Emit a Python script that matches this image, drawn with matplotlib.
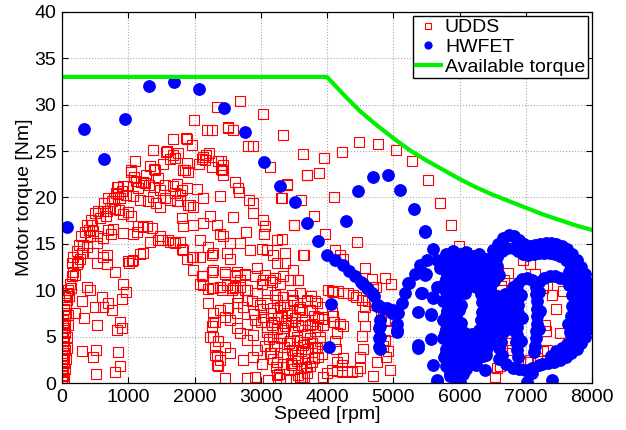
import numpy as np
import matplotlib
matplotlib.use("Agg")
import matplotlib.pyplot as plt

plt.rcParams['font.family'] = ['Liberation Sans', 'DejaVu Sans']

# ---------------- UDDS (speed rpm, torque Nm) ----------------
udds_idle = [(0,0.3),(10,0.8),(20,1.3),(5,1.8),(30,2.2),(15,2.7),(25,3.2),(40,3.6),(10,4.0),(35,4.5),
             (20,5.0),(45,5.4),(30,5.9),(50,6.3),(15,6.8),(40,7.2),(60,7.6),(25,8.0),(55,8.4),(70,8.9),
             (45,9.3),(80,9.7),(5,0.9),(45,1.5),(60,2.6),(70,3.8),(75,5.0),(85,6.2),(90,7.3),(0,3.0),
             (0,5.5),(8,6.4),(0,1.2),(30,0.5)]

udds_launch = [(96,10.0),(121,10.7),(146,11.5),(171,12.0),(221,12.8),(146,12.9),(171,13.6),(221,14.2),
  (256,14.9),(272,13.4),(297,14.0),(287,15.9),(347,16.3),(372,14.7),(372,17.0),(423,15.8),(433,17.6),
  (473,16.4),(473,14.0),(498,18.3),(523,15.9),(533,15.1),(548,18.5),(614,18.5),(614,15.6),(624,13.6),
  (640,19.4),(674,13.8),(674,18.5),(699,16.5),(700,19.9),(735,16.1),(750,19.6),(765,16.6),(800,18.8),
  (810,20.5),(825,21.1),(850,20.4),(850,21.1),(865,18.7),(900,20.7),(926,21.2),(926,18.2),(926,16.2),
  (976,21.2),(1001,18.4),(1036,22.7),(1036,18.0),(1041,23.0),(1067,20.2),(1077,16.1),(1082,22.2),
  (1087,22.2),(1102,23.9),(1117,21.8),(1127,16.3),(1152,16.9),(1177,19.7),(1177,13.9),(1192,21.7),
  (1228,21.7),(1228,16.8),(1228,14.0),(1253,21.6),(1288,16.9),(1303,19.6),(1318,21.3),(1328,23.4),
  (1328,15.2),(1353,16.7),(1378,25.1),(1378,20.1),(1389,21.1),(1393,23.1),(1404,23.0),(1419,19.4),
  (1444,15.4),(1479,20.8),(1479,19.0),(1479,15.8),(1504,15.4),(1555,21.3),(1555,19.9),(1570,24.9),
  (1590,25.0),(1605,15.4),(1630,24.2),(1630,19.7),(1630,15.2),(1680,26.3),(1680,24.6),(1680,21.2),
  (1680,15.2),(1705,24.3),(1705,20.5),(1705,15.1),(1731,21.5),(1731,19.6),(1781,19.6),(1781,15.2),
  (1781,20.3),(1806,20.8),(1806,17.8),(1806,14.5),(1821,23.0),(1831,23.0),(1831,16.9),(1831,14.3),
  (1856,23.0),(1871,26.4),(1882,26.3),(1882,21.0),(1882,23.7),(1882,13.4),(1907,22.7),(1907,19.2),
  (1932,19.2),(1957,25.7),(1957,13.6),(1982,19.0),(1982,17.0),(1982,13.6),(1982,12.2),(1992,28.4),
  (2032,20.9),(2073,23.6),(2083,15.4),(2083,13.6),(2083,10.7),(2108,24.2),(2108,11.5),(2133,24.4),
  (2133,19.9),(2133,17.2),(2133,11.5),(2158,24.0),(2173,24.6),(2183,27.3),(2209,14.7),(2209,10.1),
  (2234,18.0),(2259,27.3),(2259,13.8),(2274,12.2),(2284,14.0),(2284,10.2),(2334,29.8),(2334,17.0),
  (2360,23.9),(2385,20.2),(2385,16.1),(2385,10.4),(2395,23.9),(2400,23.1),(2410,23.0),(2410,10.0),
  (2425,23.5),(2435,22.4),(2435,15.8),(2460,12.0),(2485,14.0),(2500,27.5),(2510,27.6),(2536,15.1),
  (2536,13.4),(2561,10.0),(2576,27.3),(2586,17.9),(2611,21.7),(2611,10.4),(2611,11.5),(2636,12.0),
  (2661,21.0),(2661,9.3),(2676,20.6),(2687,30.4),(2687,15.1),(2687,11.1),(2762,11.6),(2762,10.0),
  (2777,16.3),(2787,9.0),(2812,25.5),(2827,19.7),(2837,14.3),(2878,25.5),(2878,19.4),(2888,18.3),
  (2938,12.4),(3014,14.5),(3014,10.7),(3029,29.0),(3039,17.6),(3054,16.1),(3064,16.9),(3064,11.6),
  (3089,14.3),(3139,23.3),(3139,11.1),(3165,10.9),(3190,13.8),(3240,15.4),(3240,12.9),(3290,10.7),
  (3305,19.9),(3315,15.5),(3340,26.7),(3366,14.0),(3366,12.9),(3401,21.4),(3491,12.2),(3501,17.0),
  (3567,11.1),(3642,13.8),(3693,22.4),
  (60,9.0),(110,9.4),(135,10.2),(190,11.6),(240,13.0),(320,14.9),(400,16.5),(455,17.0),(580,17.8),
  (660,18.0),(720,18.9),(780,19.9),(880,19.9),(960,20.3),(1140,21.0),(1270,22.4),(1450,22.1),
  (1520,23.6),(1750,24.8),(2260,23.3),(2220,24.8)]

udds_low_scatter = [(196,7.5),(297,8.8),(332,7.0),(372,10.4),(423,10.0),(498,8.2),(533,6.3),(599,9.3),
  (624,8.2),(699,8.6),(750,7.9),(825,5.7),(875,6.6),(900,5.9),(900,9.1),(926,10.7),(966,9.85),
  (297,3.5),(513,3.6),(473,2.8),(850,3.3),(875,1.8),(513,1.0),(800,1.2),(1000,13.1),(1052,13.2),
  (1016,12.9),(1067,13.3),(523,12.9),(674,12.8),(800,12.0)]

udds_mid_cluster = [
  (2259,12.0),(2460,11.8),(2611,11.6),(2762,11.8),(2913,11.5),(3039,11.1),(3215,11.3),(3341,11.5),
  (3441,11.1),(3567,11.1),
  (2133,10.6),(2259,10.2),(2385,10.4),(2485,10.6),(2586,10.2),(2687,10.4),(2787,10.0),(2938,9.7),
  (3089,10.0),(3215,9.5),(3341,9.3),(3466,9.5),(3592,9.7),(3693,8.95),(3819,8.8),
  (2209,8.6),(2385,7.9),(2511,8.05),(2636,8.6),(2737,8.2),(2863,8.8),(2989,8.4),(3089,8.6),(3190,8.05),
  (3291,8.2),(3391,8.4),(3492,8.8),(3592,8.2),(3743,7.9),(3844,8.6),(3919,8.2),
  (2309,6.6),(2460,7.1),(2536,6.8),(2636,7.5),(2636,5.9),(2787,6.4),(2913,6.8),(3039,7.1),(3165,6.2),
  (3265,7.0),(3366,6.1),(3466,7.3),(3567,6.2),(3668,6.8),(3768,6.4),(3869,7.1),(3945,6.2),
  (2284,5.0),(2360,4.5),(2460,3.9),(2687,5.4),(2787,4.6),(2888,5.2),(3089,5.5),(3190,5.0),(3240,4.3),
  (3341,5.4),(3441,4.5),(3542,5.0),(3643,4.1),(3743,4.8),(3819,3.9),(3894,4.5),
  (2309,3.0),(2385,2.5),(2334,1.9),(2536,3.2),(2737,2.5),(2888,2.8),(3014,2.1),(3139,3.2),(3240,2.3),
  (3341,2.8),(3466,1.9),(3567,2.7),(3668,3.2),(3768,2.3),(3869,2.8),
  (2460,0.5),(2787,0.5),(2913,0.7),(3114,0.3),(3291,0.5),(3441,0.3),(3592,0.7),
  (2234,5.0),(2259,6.1),(2309,3.9),(2334,2.9),(2360,1.8),(2284,6.6),(2284,7.5)]

udds_core = [(3150,7.6),(3200,6.6),(3250,5.8),(3300,4.9),(3350,3.9),(3400,3.1),(3450,2.2),(3500,1.5),
  (3550,2.4),(3600,3.4),(3650,4.4),(3700,5.3),(3750,6.3),(3800,7.2),(3850,6.0),(3900,5.0),(3850,3.8),
  (3800,2.7),(3750,1.8),(3700,1.1),(3650,0.6),(3600,1.6),(3550,4.6),(3500,5.6),(3450,6.6),(3400,7.5),
  (3350,8.4),(3300,7.2),(3250,8.9),(3200,4.0),(3150,3.2),(3100,6.0),(3120,4.7),(3180,2.6),(3230,1.7),
  (3280,1.0),(3330,5.9),(3380,6.8),(3420,4.3),(3470,3.6),(3520,7.0),(3570,8.0),(3620,6.1),(3670,2.6),
  (3720,3.7),(3770,4.3),(3820,5.6),(3870,7.0),(3920,3.1),(3930,6.9),(3330,2.0),(3520,3.0),(3620,7.7),
  (3700,8.8),(3480,9.0),(3060,4.0),(3000,6.6),(3040,8.0),(2950,3.6),(2900,7.4),(3760,9.4),(3560,0.9),
  (3380,0.4),(3240,0.9)]

udds_loop = [(4095,9.8),(4170,9.9),(4246,9.7),(4321,9.7),(4387,9.5),(4437,9.3),(4523,9.0),(4623,8.8),
  (4709,8.4),(4070,9.9),(4020,10.0),(4538,7.2),(4573,6.1),(4523,5.1),(4548,3.7),(4498,2.8),(4573,8.2),
  (4749,2.3),(4689,0.75),(4840,4.0),(4890,2.84),(4850,8.0),(4870,6.8),(4900,5.6),(4880,4.6),(4925,3.5),
  (4950,1.4),(4820,7.3),(4096,7.2),(4070,7.7),(4196,6.4),(4247,6.1),(4146,5.4),(4121,4.5),(4136,3.7),
  (4146,2.3),(4221,1.9),(4236,2.66),(4110,6.6),(3944,0.7),(3994,1.05),(4145,1.3),(4221,1.2),(4296,1.3),
  (4372,1.2),(4448,1.3),(4498,1.6),(4070,1.4),(3683,1.76),(3617,0.7),(4674,11.2),(4699,10.4),
  (4875,11.3),(4960,10.7),(4573,12.4),(4739,10.4)]

udds_high = [(3633,24.7),(3955,24.3),(4221,24.9),(4488,26.0),(4775,25.8),(5041,25.1),(3703,22.4),
  (3884,22.6),(3391,21.5),(3316,19.9),(3602,19.7),(4111,20.1),(3804,18.0),(3507,17.0),(3970,16.1),
  (4448,15.2),(3653,13.8),(4121,14.3),(4196,13.8),(4236,13.4),(5288,23.9),(5520,21.9),(5706,19.4),
  (5867,17.0),(5993,14.8),(6098,14.0),(6194,12.5),(6269,11.6)]

udds_in_hwfet = [(6737,11.9),(6677,11.1),(6627,10.5),(6964,13.3),(7064,12.8),(7140,11.8),(7266,10.2),
  (7316,10.6),(7568,9.95),(7291,6.2),(7517,5.4),(7266,3.4),(7316,3.6),(7165,2.7),(7039,2.3),(6762,4.3),
  (6788,3.6),(6611,1.8),(6536,0.7),(6571,1.6),(7064,2.5),(7400,9.5),(7450,8.0),(7300,5.6)]

# ---------------- HWFET ----------------
hwfet_launch = [(80,16.85),(337,27.35),(639,24.2),(951,28.5),(1318,32.05),(1695,32.5),(2073,31.65),
  (2440,29.7),(2762,27.06),(3054,23.8),(3295,21.2),(3512,19.5),(3698,17.3),(3860,15.3),(3995,13.8)]

hwfet_decel = [(4121,13.26),(4237,12.7),(4337,12.1),(4423,11.5),(4509,10.9),(4548,10.7),(4599,10.2),
  (4623,10.1),(4674,9.67),(4709,9.4),(4750,8.3),(4774,8.4),(4850,8.05),(4910,8.05),(4976,7.5),
  (5000,7.87),(5076,7.6),(5052,6.4),(5052,5.5),(4800,6.8),(4800,6.1),(4789,5.9),(4789,4.8),(4800,5.0),
  (4790,3.9),(4800,3.7),(4056,8.5),(4035,3.85)]

hwfet_hill = [(4282,17.5),(4473,20.7),(4690,22.2),(4916,22.4),(5102,20.8),(5318,18.8),(5479,16.4),
  (5605,14.4)]

hwfet_mid = [(5127,8.6),(5177,9.67),(5227,10.8),(5242,10.75),(5328,11.8),(5404,12.7),(5505,13.3),
  (5655,13.3),(5857,12.4),(5479,11.6),(5429,9.67),(5605,9.3),(5378,7.7),(5570,7.44),(5570,4.74),
  (5378,3.74),(5595,1.9),(5655,0.3),(5052,5.7),(5378,4.1),(5419,9.7),(5489,11.75),(5570,7.3),
  (5605,9.2),(5665,0.14),(5655,10.4),(5705,12.4),(5806,12.9),(5856,11.8),(5957,11.5),(5856,8.94),
  (5806,7.15),(5781,5.35),(5831,2.66),(5856,1.04),(5957,0.14),(5479,16.3)]

hwfet_blob = [(5790,13.9),(5905,14.2),(6010,13.9),(6095,14.1),(6205,13.7),(6300,13.9),(6395,13.4),
  (5750,12.7),(5860,12.9),(5945,12.6),(6055,12.9),(6140,12.7),(6260,12.8),(6345,12.5),(6455,12.9),
  (5810,11.8),(5890,11.6),(6010,11.9),(6095,11.7),(6210,11.6),(6290,11.9),(6410,11.7),
  (5760,10.7),(5845,10.9),(5960,10.6),(6040,10.8),(6160,10.5),(6245,10.3),(6350,10.8),(6440,10.6),
  (5800,9.8),(5910,9.6),(5995,9.9),(6080,9.7),(6320,9.6),(6400,9.8),
  (5755,8.8),(5860,8.6),(5950,8.9),(6025,8.4),(6335,8.7),(6425,8.9),
  (5805,7.8),(5900,7.6),(5985,7.9),(6345,7.7),(6430,7.9),
  (5745,6.8),(5855,6.6),(5945,6.9),(6030,6.5),(6330,6.8),(6420,6.6),
  (5800,5.8),(5905,5.6),(5995,5.9),(6090,5.4),(6190,5.3),(6295,5.7),(6400,5.9),
  (5750,4.8),(5850,4.6),(5955,4.9),(6045,4.5),(6150,4.4),(6255,4.7),(6350,4.9),(6445,4.6),
  (5800,3.7),(5895,3.9),(6005,3.6),(6100,3.5),(6210,3.7),(6300,3.9),(6395,3.6),
  (5760,2.8),(5845,2.6),(5960,2.8),(6050,2.5),(6160,2.6),(6250,2.4),(6350,2.9),
  (5800,1.8),(5910,1.6),(6000,1.9),(6100,1.5),(6385,1.4),
  (5860,0.8),(5935,0.3),(6007,0.14),(6057,1.0),
  (5850,13.4),(5955,13.3),(6050,13.4),(6150,13.2),(6250,13.2),(6350,13.1),
  (5900,12.2),(6000,12.4),(6100,12.2),(6200,12.1),(6300,12.3),(6400,12.2),
  (5800,11.2),(5900,11.2),(6000,11.3),(6100,11.1),(6200,11.0),(6300,11.2),(6400,11.2),
  (5850,10.2),(5950,10.2),(6050,10.2),(6350,10.2),(6450,10.1),
  (5800,9.2),(5900,9.2),(6360,9.2),(6460,9.3),
  (5850,8.2),(5950,8.3),(6390,8.2),(5800,7.2),(5950,7.3),(6380,7.2),
  (5850,6.2),(5950,6.3),(6350,6.2),(6450,6.2),
  (5800,5.2),(5900,5.1),(6000,5.3),(6100,5.0),(6200,4.9),(6300,5.2),(6400,5.3),
  (5850,4.2),(5950,4.3),(6050,4.1),(6150,4.0),(6250,4.2),(6350,4.3),(6450,4.1),
  (5800,3.2),(5900,3.3),(6000,3.1),(6100,3.0),(6200,3.1),(6300,3.3),(6400,3.0),
  (5850,2.1),(5950,2.2),(6050,2.0),(6150,2.1),(6250,1.9),(5900,1.1),(6000,1.4)]

hwfet_band_outer = [(6500,14.3),(6580,15.0),(6660,15.6),(6740,16.0),(6820,15.9),(6900,15.4),(6980,15.0),
  (7060,14.8),(7140,14.9),(7220,15.0),(7300,15.1),(7380,15.1),(7460,15.0),(7540,14.8),(7620,14.4),
  (7700,13.9),(7770,13.3),(7840,12.5),(7900,11.7),(7950,10.8),(7985,9.8),(8000,8.8),(7995,7.8),
  (7975,6.8),(7945,5.8),(7900,5.0),(7840,4.3),(7770,3.7),(7690,3.2),(7600,2.8),(7510,2.5),(7420,2.3),
  (7330,2.2),(7240,2.1)]

hwfet_band_inner = [(6560,13.6),(6640,14.2),(6720,14.6),(6800,14.6),(6880,14.2),(6960,13.9),(7040,13.8),
  (7120,13.9),(7200,14.0),(7280,14.0),(7360,14.0),(7440,13.9),(7520,13.7),(7600,13.3),(7670,12.8),
  (7730,12.1),(7790,11.4),(7840,10.6),(7870,9.7),(7890,8.8),(7890,7.8),(7870,6.9),(7830,6.0),
  (7770,5.3),(7700,4.7),(7620,4.2),(7540,3.8),(7460,3.5)]

hwfet_ring_fill = [(7660,12.0),(7720,11.0),(7760,10.0),(7790,9.0),(7790,8.0),(7770,7.0),(7730,6.2),
  (7670,5.5),(7700,9.5),(7700,8.3),(7690,7.2),(7650,10.6),(7640,6.4),(7940,9.0),(7950,7.4),
  (7920,10.2),(7900,6.2),(7840,11.8),(7800,4.9),(7560,3.2),(7380,2.9),(7650,3.6)]

hwfet_inner = [(7200,10.9),(7280,11.3),(7360,11.5),(7440,11.5),(7520,11.3),(7600,11.2),
  (7150,10.4),(7160,9.6),(7170,8.8),(7175,8.0),(7170,7.2),(7165,6.4),(7160,5.6),(7150,4.8),(7140,4.0),
  (7130,3.3),(7200,9.8),(7210,7.8),(7200,5.8),
  (6880,10.8),(6950,11.2),(7020,11.3),(7090,11.1),
  (6870,10.0),(6880,9.2),(6885,8.4),(6880,7.6),(6875,6.8),(6870,6.0),(6865,5.2),(6860,4.4),(6870,3.6),
  (6880,2.8),(6930,9.5),(6940,7.0),(6930,4.5),
  (6480,11.8),(6470,10.8),(6470,9.8),(6480,8.8),(6490,7.8),(6500,6.8),(6520,5.8),(6550,4.8),(6590,3.8),
  (6640,3.0),(6560,9.4),(6590,8.4),(6610,7.4),(6630,6.4),(6660,5.5),(6690,9.6),(6710,8.6),(6720,7.6),
  (6740,6.6),(6770,5.8),(6800,10.3),(6800,9.0),(6790,7.8),(6560,12.6),(6530,13.4),
  (6600,2.6),(6700,2.0),(6800,1.6),(6900,1.5),(6990,1.4),(7100,1.6),(7200,1.9),(7014,0.14),(7089,1.04),
  (7391,0.3),(6540,8.0),(6560,6.0),(6700,6.4),(6750,9.3),(6620,4.4),(6520,11.0),(6600,11.6)]

# ---------------- Available torque ----------------
avail_speed = [0, 4000, 4250, 4500, 4750, 5000, 5250, 5500, 5750, 6000, 6250, 6500, 6750, 7000,
               7250, 7500, 7750, 8000]
avail_torque = [33, 33, 31.1, 29.3, 27.8, 26.4, 25.1, 24.0, 23.0, 22.0, 21.1, 20.3, 19.6, 18.9,
                18.2, 17.6, 17.0, 16.5]

udds = np.array(udds_idle + udds_launch + udds_low_scatter + udds_mid_cluster + udds_core +
                udds_loop + udds_high + udds_in_hwfet, dtype=float)
hwfet = np.array(hwfet_launch + hwfet_decel + hwfet_hill + hwfet_mid + hwfet_blob +
                 hwfet_band_outer + hwfet_band_inner + hwfet_ring_fill + hwfet_inner, dtype=float)

fig = plt.figure(figsize=(6.26, 4.30), dpi=100)
ax = fig.add_axes([62/626, 47/430, 530/626, 371/430])

ax.plot(udds[:, 0], udds[:, 1], 's', mfc='none', mec='red', ms=6.6, mew=0.8, label='UDDS')
ax.plot(hwfet[:, 0], hwfet[:, 1], 'o', color='blue', mec='blue', ms=8.2, label='HWFET')
ax.plot(avail_speed, avail_torque, color='#00f000', lw=3, label='Available torque')

ax.set_xlim(0, 8000)
ax.set_ylim(0, 40)
ax.set_xticks(np.arange(0, 8001, 1000))
ax.set_yticks(np.arange(0, 41, 5))
ax.grid(True, linestyle=':', color='#a8a8a8', linewidth=0.8)
ax.set_axisbelow(True)
ax.tick_params(direction='in', length=4, top=True, right=True, labelsize=14, pad=4)
for sp in ax.spines.values():
    sp.set_linewidth(0.9)
ax.set_xlabel('Speed [rpm]', fontsize=14, labelpad=0)
ax.set_ylabel('Motor torque [Nm]', fontsize=14, labelpad=1)

leg = ax.legend(loc='upper right', fontsize=14, frameon=True, fancybox=False, framealpha=1,
                edgecolor='black', borderaxespad=0.2, handlelength=1.3, handletextpad=0.2,
                labelspacing=0.1, borderpad=0.15, markerscale=0.6)
leg.get_frame().set_linewidth(1.0)

fig.savefig('out.png', dpi=100)
